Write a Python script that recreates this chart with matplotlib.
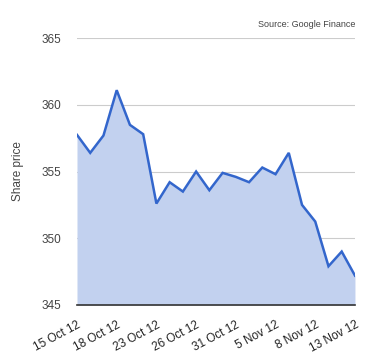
import matplotlib
matplotlib.use("Agg")
import matplotlib.pyplot as plt

dates = ["15 Oct 12", "16 Oct 12", "17 Oct 12", "18 Oct 12", "19 Oct 12", "22 Oct 12",
         "23 Oct 12", "24 Oct 12", "25 Oct 12", "26 Oct 12", "29 Oct 12", "30 Oct 12",
         "31 Oct 12", "1 Nov 12", "2 Nov 12", "5 Nov 12", "6 Nov 12", "7 Nov 12",
         "8 Nov 12", "9 Nov 12", "12 Nov 12", "13 Nov 12"]
prices = [357.75, 356.4, 357.7, 361.1, 358.5, 357.8,
          352.6, 354.2, 353.5, 355.0, 353.6, 354.9,
          354.6, 354.2, 355.3, 354.8, 356.4, 352.5,
          351.25, 347.9, 349.0, 347.2]
tick_labels = ["15 Oct 12", "18 Oct 12", "23 Oct 12", "26 Oct 12", "31 Oct 12",
               "5 Nov 12", "8 Nov 12", "13 Nov 12"]
y_ticks = [345, 350, 355, 360, 365]

plt.rcParams['font.family'] = ['Liberation Sans', 'DejaVu Sans']

fig = plt.figure(figsize=(3.8, 3.6), dpi=100)
ax = fig.add_axes([0.2026, 0.153, 0.7315, 0.741])

x = list(range(len(prices)))
ax.fill_between(x, prices, 345, color="#c2d1ef", lw=0, zorder=2)
ax.plot(x, prices, color="#3366cc", lw=1.8, zorder=3, solid_joinstyle='miter')

ax.set_xlim(0, len(prices) - 1)
ax.set_ylim(345, 365)
ax.set_yticks(y_ticks)
ax.set_yticklabels([str(v) for v in y_ticks], color="#444444", fontsize=8.5)
tick_pos = [dates.index(t) for t in tick_labels]
ax.set_xticks(tick_pos)
ax.set_xticklabels(tick_labels, rotation=28, ha='right', rotation_mode='anchor',
                   color="#222222", fontsize=8.5)
ax.tick_params(axis='y', length=0, pad=11)
ax.tick_params(axis='x', length=0, pad=10)

ax.grid(axis='y', color="#cccccc", lw=0.8, zorder=1)
ax.grid(axis='x', visible=False)
for s in ['top', 'right', 'left']:
    ax.spines[s].set_visible(False)
ax.spines['bottom'].set_color("#333333")
ax.spines['bottom'].set_linewidth(1.2)
ax.spines['bottom'].set_zorder(4)

ax.set_ylabel("Share price", color="#444444", fontsize=8.5, labelpad=13)
ax.text(1.0, 1.035, "Source: Google Finance", transform=ax.transAxes,
        ha='right', va='bottom', fontsize=6.5, color="#444444")

fig.savefig("out.png", dpi=100)
